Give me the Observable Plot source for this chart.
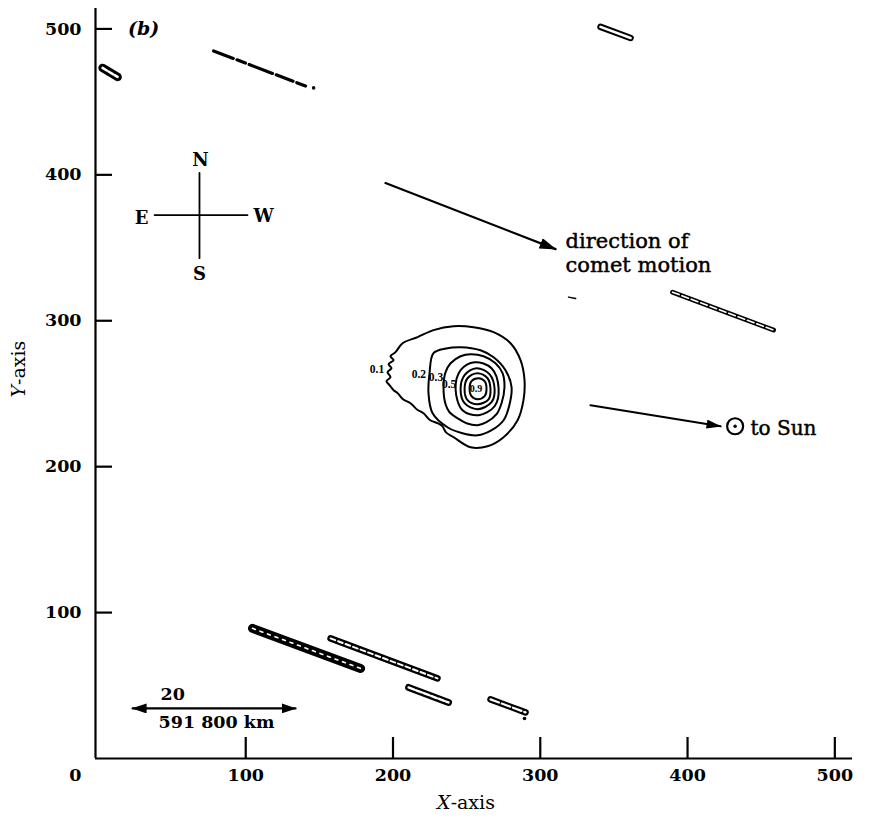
<!DOCTYPE html>
<html><head><meta charset="utf-8">
<script src="https://cdn.jsdelivr.net/npm/d3@7"></script>
<script src="https://cdn.jsdelivr.net/npm/@observablehq/plot@0.6"></script>
<style>html,body{margin:0;padding:0;background:#fff;} svg{display:block;}</style>
</head><body><div id="chart"></div>
<script>
// ---------- axes ----------
const xDomain = [-2, 512];
const yDomain = [0, 514];
const xTicks = [100, 200, 300, 400, 500];
const xZeroTick = [0];
const yTicks = [100, 200, 300, 400, 500];

// ---------- isophote contours (X, Y) ----------
const contour01 = [[201.7,278.5],[206.5,284.6],[216.7,288.8],[227.5,293.6],[241.1,296.3],[254.7,295.6],[268.3,292.2],[279.8,284.6],[286.6,273.0],[289.3,259.3],[288.6,245.6],[284.6,231.8],[275.1,220.2],[264.2,214.0],[252.7,213.3],[241.1,220.2],[236.0,223.5],[233.5,227.8],[230.3,229.8],[225.0,232.0],[220.7,236.6],[216.5,239.0],[211.9,243.5],[207.0,246.0],[203.1,250.4],[200.4,252.4],[197.6,255.9],[195.6,258.6],[198.3,261.3],[196.3,264.8],[199.0,267.5],[197.0,270.2],[200.4,273.0],[198.3,275.7]];
const contour02 = [[224.1,250.4],[224.8,264.1],[227.5,277.8],[236.0,281.0],[245.9,281.9],[259.4,279.8],[268.3,275.0],[276.4,266.1],[280.5,254.5],[279.0,242.1],[275.1,231.8],[267.0,225.0],[257.4,221.5],[247.2,222.9],[237.0,227.0],[226.9,236.6]];
const contour03 = [[234.3,254.5],[235.7,264.8],[239.1,270.9],[245.9,275.7],[252.7,277.1],[261.5,275.7],[269.6,270.9],[274.4,264.1],[275.7,254.5],[273.7,243.5],[270.3,236.0],[263.5,230.5],[257.4,228.4],[249.9,229.8],[243.8,233.2],[238.4,237.3],[235.7,242.8]];
const contour05 = [[242.5,253.1],[245.9,266.1],[255.4,271.6],[266.9,267.5],[271.7,253.8],[269.0,241.4],[258.1,235.3],[247.2,238.7]];
const contour07 = [[245.9,253.1],[248.6,262.7],[256.7,267.5],[265.5,263.4],[269.0,253.1],[266.9,244.2],[257.4,239.4],[248.6,243.5]];
const contour08 = [[248.6,253.1],[250.6,260.6],[257.4,264.1],[264.2,260.6],[266.2,253.1],[264.9,246.2],[257.4,242.8],[250.6,245.6]];
const contour09 = [[252.0,253.8],[253.3,258.6],[258.1,260.6],[262.2,258.6],[263.5,253.1],[262.2,248.3],[257.4,246.2],[253.3,248.3]];
const contourLevels = ["0.1","0.2","0.3","0.5","0.7","0.8","0.9"];
const contourLabels = ["0.1","0.2","0.3","0.5","0.9"];
const contourLabelX = [189.1, 217.6, 229.2, 238.1, 256.4];
const contourLabelY = [266.8, 263.4, 261.0, 256.5, 253.1];

// ---------- star trails (X, Y) ----------
const trailTopLeft = [[2.8,473.3],[13.0,467.1]];
const trailTopDashed = [[78.2,484.9],[140.6,460.9]];
const trailTopRight = [[340.9,501.4],[361.3,493.8]];
const trailRight = [[389.8,319.6],[458.4,293.6]];
const trailBottom1 = [[104.6,89.2],[178.0,61.7]];
const trailBottom2 = [[157.6,82.3],[230.2,54.9]];
const trailBottom3 = [[210.6,48.7],[237.7,38.4]];
const trailBottom4 = [[266.2,40.5],[290.0,31.6]];
const trailSpeck = [[319.2,316.2],[324.0,315.2]];
const trailDots = [[146.1,459.6],[289.3,27.4]];

// ---------- compass ----------
const compassH = [[38.1,372.4],[101.2,372.4]];
const compassV = [[68.6,401.3],[68.6,342.9]];
const compassLetters = ["N","S","E","W"];
const compassX = [69.3, 68.6, 29.3, 112.1];
const compassY = [410.2, 332.0, 370.4, 371.8];

// ---------- arrows & annotations ----------
const motionArrow = [[194.9,394.4],[310.4,349.1]];
const sunArrow = [[334.1,242.1],[422.4,227.7]];
const scaleArrow = [[23.2,34.3],[133.8,34.3]];
const sunPos = [[432.3,227.7]];
const panelLabel = ["(b)"]; const panelPos = [30.6, 500.0];
const motionText = ["direction of", "comet motion"]; const motionPos = [317.2, 347.1];
const sunText = ["to Sun"]; const sunTextPos = [442.8, 226.3];
const scaleTop = ["20"]; const scaleTopPos = [42.2, 43.9];
const scaleBottom = ["591 800 km"]; const scaleBottomPos = [40.8, 24.7];
const xAxisTitle = "X-axis";
const yAxisTitle = "Y-axis";

// ---------- build tables ----------
const contourSets = [contour01, contour02, contour03, contour05, contour07, contour08, contour09];
const contourRows = contourSets.flatMap((pts, i) => pts.map(([x, y]) => ({level: contourLevels[i], x, y})));
const labelRows = contourLabels.map((t, i) => ({t, x: contourLabelX[i], y: contourLabelY[i]}));
const compassRows = compassLetters.map((t, i) => ({t, x: compassX[i], y: compassY[i]}));
const px = d => d[0], py = d => d[1];

const trailStyles = [
  {pts: trailTopLeft, w: 8.5, wi: 2.5, dash: "5,2"},
  {pts: trailTopRight, w: 6.5, wi: 2.6, dash: null},
  {pts: trailRight, w: 4.8, wi: 1.6, dash: "7,3"},
  {pts: trailBottom1, w: 9, wi: 1.6, dash: "3,5"},
  {pts: trailBottom2, w: 6.5, wi: 2.0, dash: "5,3"},
  {pts: trailBottom3, w: 7, wi: 2.4, dash: "6,2"},
  {pts: trailBottom4, w: 6.5, wi: 2.2, dash: "9,3"}
];
const trailMarks = trailStyles.flatMap(s => [
  Plot.line(s.pts, {x: px, y: py, stroke: "black", strokeWidth: s.w, strokeLinecap: "round"}),
  Plot.line(s.pts, {x: px, y: py, stroke: "white", strokeWidth: s.wi, strokeLinecap: "round", strokeDasharray: s.dash})
]);

const bold = {fontFamily: "'DejaVu Serif', serif", fontWeight: "bold", fill: "black"};
const heavy = {fill: "black", stroke: "black", strokeWidth: 0.45};

const chart = Plot.plot({
  width: 872, height: 824,
  marginLeft: 95, marginRight: 20, marginTop: 8, marginBottom: 66,
  x: {domain: xDomain, label: null},
  y: {domain: yDomain, label: null},
  style: {fontFamily: "'DejaVu Serif', serif", color: "black", background: "white"},
  marks: [
    Plot.ruleX([xDomain[0]], {stroke: "black", strokeWidth: 2.2}),
    Plot.ruleY([yDomain[0]], {stroke: "black", strokeWidth: 2.2}),
    Plot.axisX({ticks: xTicks, tickSize: 21, dy: -21, fill: "none", stroke: "black", strokeWidth: 2.2, label: null}),
    Plot.axisY({ticks: yTicks, tickSize: 17, dx: 17, fill: "none", stroke: "black", strokeWidth: 2.2, label: null}),
    Plot.axisX({ticks: xTicks, tickSize: 0, tickPadding: 10, stroke: "none", fontSize: 17.5, ...bold, label: null}),
    Plot.axisX({ticks: xZeroTick, tickSize: 0, tickPadding: 10, dx: -23, stroke: "none", fontSize: 17.5, ...bold, label: null}),
    Plot.axisY({ticks: yTicks, tickSize: 0, tickPadding: 14, stroke: "none", fontSize: 17.5, ...bold, label: null}),
    Plot.text([xAxisTitle], {frameAnchor: "bottom", dx: -8, dy: 50, fontSize: 19, fill: "black", ariaDescription: "xtitle"}),
    Plot.text([yAxisTitle], {frameAnchor: "left", rotate: -90, dx: -77, dy: 14, fontSize: 19, fill: "black", ariaDescription: "ytitle"}),

    // contours
    Plot.line(contourRows, {x: "x", y: "y", z: "level", curve: "catmull-rom-closed", stroke: "black", strokeWidth: 2}),
    Plot.text(labelRows.slice(0, 4), {x: "x", y: "y", text: "t", fontFamily: "'Liberation Serif', serif", fontWeight: "bold", fontSize: 11.5, fill: "black"}),
    Plot.text(labelRows.slice(4), {x: "x", y: "y", text: "t", fontFamily: "'Liberation Serif', serif", fontWeight: "bold", fontSize: 10, fill: "black"}),

    // star trails
    ...trailMarks,
    Plot.line(trailTopDashed, {x: px, y: py, stroke: "black", strokeWidth: 3.2, strokeDasharray: "21,4,9,4,25,4,18,4", strokeLinecap: "round"}),
    Plot.line(trailSpeck, {x: px, y: py, stroke: "black", strokeWidth: 1.5}),
    Plot.dot(trailDots, {x: px, y: py, r: 1.8, fill: "black", stroke: "none"}),

    // compass
    Plot.line(compassH, {x: px, y: py, stroke: "black", strokeWidth: 1.8}),
    Plot.line(compassV, {x: px, y: py, stroke: "black", strokeWidth: 1.8}),
    Plot.text(compassRows, {x: "x", y: "y", text: "t", fontSize: 18, ...bold}),

    // arrows
    Plot.line(motionArrow, {x: px, y: py, stroke: "black", strokeWidth: 2.2, ariaDescription: "arrow-motion"}),
    Plot.line(sunArrow, {x: px, y: py, stroke: "black", strokeWidth: 2.2, ariaDescription: "arrow-sun"}),
    Plot.line(scaleArrow, {x: px, y: py, stroke: "black", strokeWidth: 2.2, ariaDescription: "arrow-scale"}),

    // sun symbol
    Plot.dot(sunPos, {x: px, y: py, r: 8, stroke: "black", strokeWidth: 2.2, fill: "white"}),
    Plot.dot(sunPos, {x: px, y: py, r: 1.7, fill: "black", stroke: "none"}),

    // annotations
    Plot.text(panelLabel, {x: () => panelPos[0], y: () => panelPos[1], text: d => d, fontSize: 19, fontStyle: "italic", ...bold}),
    Plot.text([motionText.join("\n")], {x: () => motionPos[0], y: () => motionPos[1], text: d => d, textAnchor: "start", lineHeight: 1.15, fontSize: 21, ...heavy}),
    Plot.text(sunText, {x: () => sunTextPos[0], y: () => sunTextPos[1], text: d => d, textAnchor: "start", fontSize: 20, ...heavy}),
    Plot.text(scaleTop, {x: () => scaleTopPos[0], y: () => scaleTopPos[1], text: d => d, textAnchor: "start", fontSize: 17.5, ...bold}),
    Plot.text(scaleBottom, {x: () => scaleBottomPos[0], y: () => scaleBottomPos[1], text: d => d, textAnchor: "start", fontSize: 17.5, ...bold})
  ]
});
document.getElementById("chart").appendChild(chart);

// filled arrowheads
const svg = d3.select(chart);
const defs = svg.insert("defs", ":first-child");
function head(id, len, wid) {
  defs.append("marker").attr("id", id).attr("markerUnits", "userSpaceOnUse")
    .attr("markerWidth", len).attr("markerHeight", wid)
    .attr("refX", len - 1).attr("refY", wid / 2).attr("orient", "auto-start-reverse")
    .append("path").attr("d", `M0,0L${len},${wid / 2}L0,${wid}Z`).attr("fill", "black");
}
head("h-motion", 17, 11);
head("h-sun", 15, 9);
head("h-scale", 15, 10);
svg.selectAll('g[aria-description="arrow-motion"] path').attr("marker-end", "url(#h-motion)");
svg.selectAll('g[aria-description="arrow-sun"] path').attr("marker-end", "url(#h-sun)");
svg.selectAll('g[aria-description="arrow-scale"] path').attr("marker-end", "url(#h-scale)").attr("marker-start", "url(#h-scale)");

// italic axis letters
function italicFirst(desc, word) {
  svg.selectAll(`g[aria-description="${desc}"] text`).each(function () {
    const t = d3.select(this);
    t.text(null);
    t.append("tspan").attr("font-style", "italic").text(word[0]);
    t.append("tspan").text(word.slice(1));
  });
}
italicFirst("xtitle", xAxisTitle);
italicFirst("ytitle", yAxisTitle);
</script>
</body></html>
